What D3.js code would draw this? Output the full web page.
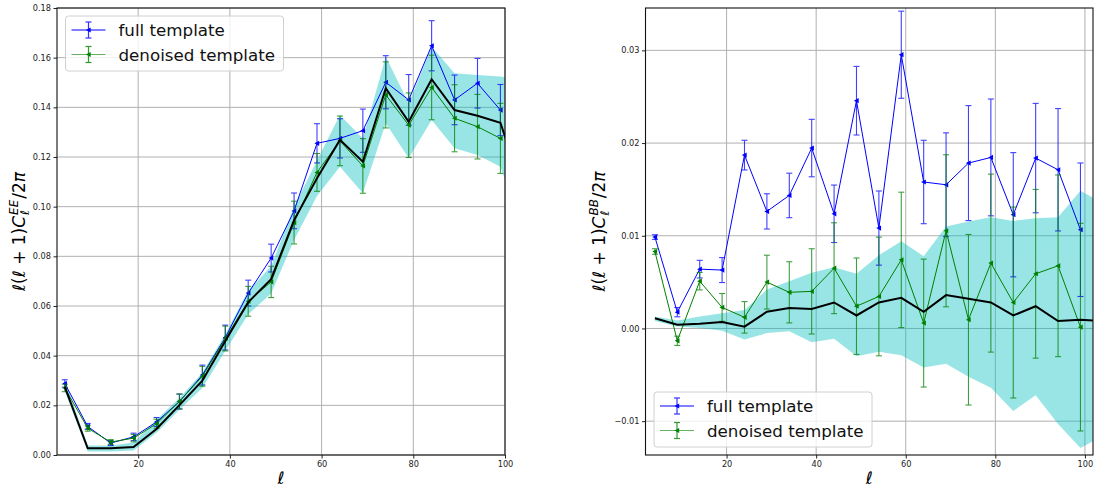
<!DOCTYPE html>
<html>
<head>
<meta charset="utf-8">
<script src="https://cdn.jsdelivr.net/npm/d3@7"></script>
<style>
  body { margin: 0; background: #fff; }
  svg { display: block; font-family: "DejaVu Sans", sans-serif; }
</style>
</head>
<body>
<svg id="chart" width="1094" height="487"></svg>
<script>
// multipole bins
const ells = [4, 9, 14, 19, 24, 29, 34, 39, 44, 49, 54, 59, 64, 69, 74, 79, 84, 89, 94, 99];
// mean + band run one bin past the axis edge
const ellsExt = [4, 9, 14, 19, 24, 29, 34, 39, 44, 49, 54, 59, 64, 69, 74, 79, 84, 89, 94, 99, 104];

// EE panel
const eeFull    = [0.0288, 0.0115, 0.0048, 0.0073, 0.0133, 0.0215, 0.0322, 0.0473, 0.0652, 0.0793, 0.0983, 0.1255, 0.1275, 0.1306, 0.1501, 0.1430, 0.1648, 0.1430, 0.1497, 0.1389];
const eeFullErr = [0.0015, 0.0012, 0.0010, 0.0015, 0.0018, 0.0030, 0.0040, 0.0050, 0.0052, 0.0056, 0.0072, 0.0079, 0.0079, 0.0087, 0.0107, 0.0102, 0.0101, 0.0100, 0.0100, 0.0103];
const eeDen     = [0.0270, 0.0108, 0.0052, 0.0068, 0.0126, 0.0216, 0.0317, 0.0469, 0.0619, 0.0697, 0.0936, 0.1138, 0.1265, 0.1164, 0.1450, 0.1328, 0.1480, 0.1356, 0.1322, 0.1275];
const eeDenErr  = [0.0015, 0.0012, 0.0010, 0.0015, 0.0018, 0.0030, 0.0040, 0.0050, 0.0060, 0.0063, 0.0086, 0.0076, 0.0100, 0.0110, 0.0133, 0.0130, 0.0130, 0.0135, 0.0130, 0.0141];
const eeMean    = [0.0274, 0.0027, 0.0027, 0.0032, 0.0105, 0.0201, 0.0299, 0.0459, 0.0615, 0.0708, 0.0946, 0.1114, 0.1269, 0.1181, 0.1477, 0.1342, 0.1513, 0.1389, 0.1366, 0.1338, 0.1060];
const eeLow     = [0.0257, 0.0014, 0.0014, 0.0018, 0.0090, 0.0182, 0.0270, 0.0419, 0.0567, 0.0650, 0.0866, 0.1043, 0.1161, 0.1054, 0.1336, 0.1195, 0.1349, 0.1235, 0.1208, 0.1161, 0.0900];
const eeHigh    = [0.0304, 0.0038, 0.0038, 0.0050, 0.0142, 0.0230, 0.0331, 0.0486, 0.0662, 0.0760, 0.1000, 0.1186, 0.1369, 0.1275, 0.1604, 0.1416, 0.1644, 0.1537, 0.1530, 0.1524, 0.1510];
const eeTicks   = [0, 0.02, 0.04, 0.06, 0.08, 0.10, 0.12, 0.14, 0.16, 0.18];

// BB panel
const bbFull    = [0.00986, 0.00176, 0.0064, 0.0063, 0.0187, 0.01263, 0.01435, 0.01946, 0.01237, 0.02457, 0.01083, 0.02953, 0.0158, 0.0155, 0.01784, 0.01845, 0.01227, 0.01838, 0.01712, 0.01065];
const bbFullErr = [0.00025, 0.0005, 0.00095, 0.00135, 0.0016, 0.0019, 0.0024, 0.0031, 0.0031, 0.0037, 0.0040, 0.0047, 0.0045, 0.0056, 0.0062, 0.0063, 0.0067, 0.0059, 0.0066, 0.0072];
const bbDen     = [0.0083, -0.00133, 0.0051, 0.00227, 0.0012, 0.0050, 0.0039, 0.0040, 0.0065, 0.0024, 0.00345, 0.0074, 0.00058, 0.01054, 0.00094, 0.00705, 0.0028, 0.0059, 0.00676, 0.00014];
const bbDenErr  = [0.0003, 0.0005, 0.00094, 0.0015, 0.0017, 0.0029, 0.0033, 0.0046, 0.0049, 0.0052, 0.0064, 0.0073, 0.0069, 0.0082, 0.0092, 0.0096, 0.0103, 0.0091, 0.0098, 0.0112];
const bbMean    = [0.0011, 0.0004, 0.0005, 0.0007, 0.0002, 0.0018, 0.0022, 0.0021, 0.0028, 0.0014, 0.0028, 0.0033, 0.0018, 0.0036, 0.0032, 0.0028, 0.0014, 0.0024, 0.0008, 0.00094, 0.0008];
const bbLow     = [0.0008, 0.0002, 0.00004, -0.00025, -0.0012, -0.0005, -0.0003, -0.0015, -0.0011, -0.0030, -0.0025, -0.0029, -0.0042, -0.0038, -0.0052, -0.0064, -0.0089, -0.0072, -0.0103, -0.0129, -0.0116];
const bbHigh    = [0.0013, 0.00086, 0.0013, 0.00165, 0.0020, 0.0042, 0.0051, 0.0060, 0.0066, 0.0059, 0.0079, 0.0094, 0.0078, 0.0110, 0.01155, 0.0120, 0.0116, 0.0119, 0.0120, 0.01486, 0.0135];
const bbTicks   = [-0.01, 0, 0.01, 0.02, 0.03];

const xTicks = [20, 40, 60, 80, 100];
const labels = ['full template', 'denoised template'];
const colors = ['#0000ff', '#008000'];

const svg = d3.select('#chart');
const tri = 'M-2.6,0L2.2,-2.6L2.2,2.6Z';   // left-pointing triangle marker

function drawPanel(p) {
  const x = d3.scaleLinear().domain(p.xDomain).range([p.x0, p.x1]);
  const y = d3.scaleLinear().domain(p.yDomain).range([p.y1, p.y0]);
  const g = svg.append('g');

  svg.append('clipPath').attr('id', 'clip-' + p.name)
    .append('rect')
    .attr('x', p.x0).attr('y', p.y0)
    .attr('width', p.x1 - p.x0).attr('height', p.y1 - p.y0);

  // grid
  g.append('g').selectAll('line').data(xTicks).join('line')
    .attr('x1', d => x(d)).attr('x2', d => x(d))
    .attr('y1', p.y0).attr('y2', p.y1)
    .attr('stroke', '#b0b0b0').attr('stroke-width', 1);
  g.append('g').selectAll('line').data(p.yTicks).join('line')
    .attr('x1', p.x0).attr('x2', p.x1)
    .attr('y1', d => y(d)).attr('y2', d => y(d))
    .attr('stroke', '#b0b0b0').attr('stroke-width', 1);

  const inner = g.append('g').attr('clip-path', `url(#clip-${p.name})`);

  const band = ellsExt.map((l, i) => ({ l, lo: p.low[i], hi: p.high[i], m: p.mean[i] }));
  inner.append('path')
    .datum(band)
    .attr('fill', '#00bfbf').attr('fill-opacity', 0.4)
    .attr('d', d3.area().x(d => x(d.l)).y0(d => y(d.lo)).y1(d => y(d.hi)));

  p.series.forEach((s, k) => {
    const pts = ells.map((l, i) => ({ l, v: s.vals[i], e: s.errs[i] }));
    const sg = inner.append('g');
    const bars = sg.append('g').attr('stroke', colors[k]).attr('stroke-width', 1.1).attr('opacity', 0.75);
    bars.selectAll('line.v').data(pts).join('line').attr('class', 'v')
      .attr('x1', d => x(d.l)).attr('x2', d => x(d.l))
      .attr('y1', d => y(d.v - d.e)).attr('y2', d => y(d.v + d.e));
    bars.selectAll('line.top').data(pts).join('line').attr('class', 'top')
      .attr('x1', d => x(d.l) - 3).attr('x2', d => x(d.l) + 3)
      .attr('y1', d => y(d.v + d.e)).attr('y2', d => y(d.v + d.e));
    bars.selectAll('line.bot').data(pts).join('line').attr('class', 'bot')
      .attr('x1', d => x(d.l) - 3).attr('x2', d => x(d.l) + 3)
      .attr('y1', d => y(d.v - d.e)).attr('y2', d => y(d.v - d.e));
    sg.append('path').datum(pts)
      .attr('fill', 'none').attr('stroke', colors[k]).attr('stroke-width', 1)
      .attr('d', d3.line().x(d => x(d.l)).y(d => y(d.v)));
    sg.selectAll('path.m').data(pts).join('path').attr('class', 'm')
      .attr('d', tri).attr('fill', colors[k])
      .attr('transform', d => `translate(${x(d.l)},${y(d.v)})`);
  });

  inner.append('path').datum(band)
    .attr('fill', 'none').attr('stroke', '#000').attr('stroke-width', 2)
    .attr('d', d3.line().x(d => x(d.l)).y(d => y(d.m)));

  // axes
  const ax = g.append('g').attr('transform', `translate(0,${p.y1})`)
    .call(d3.axisBottom(x).tickValues(xTicks).tickSize(3.5).tickPadding(2.5));
  const ay = g.append('g').attr('transform', `translate(${p.x0},0)`)
    .call(d3.axisLeft(y).tickValues(p.yTicks).tickFormat(d3.format('.2f')).tickSize(3.5).tickPadding(2.5));
  [ax, ay].forEach(a => {
    a.select('.domain').remove();
    a.selectAll('text').attr('font-size', 8.2).attr('fill', '#222').attr('font-family', '"DejaVu Sans", sans-serif');
    a.selectAll('line').attr('stroke', '#222');
  });

  g.append('rect')
    .attr('x', p.x0).attr('y', p.y0)
    .attr('width', p.x1 - p.x0).attr('height', p.y1 - p.y0)
    .attr('fill', 'none').attr('stroke', '#111').attr('stroke-width', 1.1);

  // x label
  g.append('text').attr('x', (p.x0 + p.x1) / 2).attr('y', 484)
    .attr('text-anchor', 'middle').attr('font-size', 17).attr('font-style', 'italic')
    .text('ℓ');

  yLabel(p.labelX, (p.y0 + p.y1) / 2, p.sup);
  legend(p.legX, p.legY);
}

function yLabel(bx, cy, sup) {
  const fs = 17;
  const outer = svg.append('g').attr('transform', `translate(${bx},${cy}) rotate(-90)`);
  const g = outer.append('g');
  const t1 = g.append('text').attr('font-size', fs);
  t1.append('tspan').attr('font-style', 'italic').text('ℓ');
  t1.append('tspan').text('(');
  t1.append('tspan').attr('font-style', 'italic').text('ℓ');
  t1.append('tspan').text(' + 1)');
  t1.append('tspan').attr('font-style', 'italic').text('C');
  const w1 = t1.node().getComputedTextLength() + 1;
  const ts = g.append('text').attr('font-size', fs * 0.7).attr('font-style', 'italic')
    .attr('x', w1).attr('y', -7).text(sup);
  const tb = g.append('text').attr('font-size', fs * 0.7).attr('font-style', 'italic')
    .attr('x', w1).attr('y', 4).text('ℓ');
  const w2 = Math.max(ts.node().getComputedTextLength(), tb.node().getComputedTextLength()) + 1;
  const t3 = g.append('text').attr('font-size', fs).attr('x', w1 + w2);
  t3.append('tspan').text('/2');
  t3.append('tspan').attr('font-style', 'italic').text('π');
  const total = w1 + w2 + t3.node().getComputedTextLength();
  g.attr('transform', `translate(${-total / 2},0)`);
}

function legend(lx, ly) {
  const g = svg.append('g').attr('transform', `translate(${lx},${ly})`);
  g.append('rect').attr('width', 218).attr('height', 55).attr('rx', 3)
    .attr('fill', '#fff').attr('fill-opacity', 0.8)
    .attr('stroke', '#d0d0d0').attr('stroke-width', 1);
  labels.forEach((lab, i) => {
    const cy = 14 + i * 24.5;
    const h = g.append('g').attr('transform', `translate(0,${cy})`);
    h.append('line').attr('x1', 6).attr('x2', 40).attr('y1', 0).attr('y2', 0)
      .attr('stroke', colors[i]).attr('stroke-width', 1.2).attr('opacity', i ? 0.6 : 1);
    const eb = h.append('g').attr('stroke', colors[i]).attr('stroke-width', 1.2).attr('opacity', 0.8);
    eb.append('line').attr('x1', 23).attr('x2', 23).attr('y1', -8).attr('y2', 8);
    eb.append('line').attr('x1', 20).attr('x2', 26).attr('y1', -8).attr('y2', -8);
    eb.append('line').attr('x1', 20).attr('x2', 26).attr('y1', 8).attr('y2', 8);
    h.append('path').attr('d', tri).attr('fill', colors[i]).attr('transform', 'translate(23,0)');
    h.append('text').attr('x', 53).attr('y', 6).attr('font-size', 16.7).attr('fill', '#111').text(lab);
  });
}

drawPanel({
  name: 'ee', x0: 57, x1: 505, y0: 8, y1: 455,
  xDomain: [2.3, 100], yDomain: [0, 0.18], yTicks: eeTicks,
  mean: eeMean, low: eeLow, high: eeHigh,
  series: [{ vals: eeFull, errs: eeFullErr }, { vals: eeDen, errs: eeDenErr }],
  labelX: 25, sup: 'EE', legX: 65.5, legY: 16
});

drawPanel({
  name: 'bb', x0: 645.5, x1: 1093, y0: 8, y1: 455,
  xDomain: [1.9, 101.8], yDomain: [-0.01365, 0.03457], yTicks: bbTicks,
  mean: bbMean, low: bbLow, high: bbHigh,
  series: [{ vals: bbFull, errs: bbFullErr }, { vals: bbDen, errs: bbDenErr }],
  labelX: 605, sup: 'BB', legX: 654, legY: 392
});
</script>
</body>
</html>
